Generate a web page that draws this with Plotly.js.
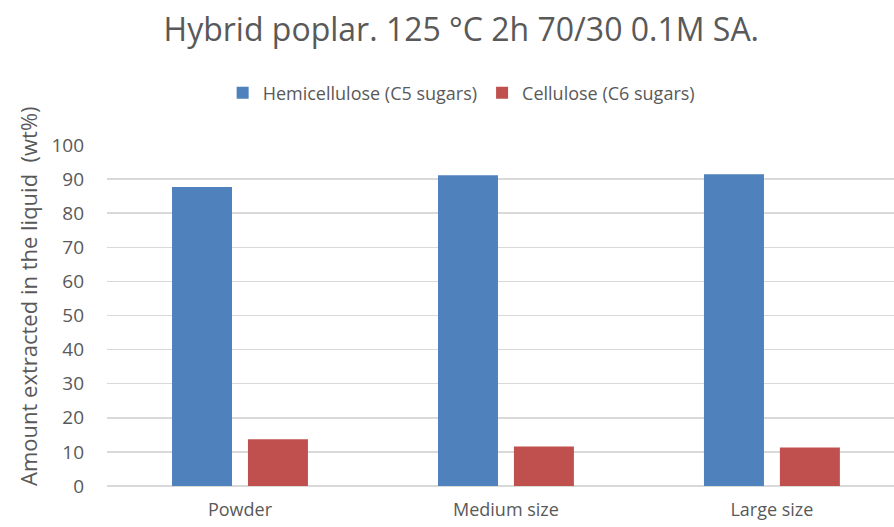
<!DOCTYPE html>
<html><head><meta charset="utf-8">
<script src="https://cdn.plot.ly/plotly-3.0.1.min.js"></script>
<style>html,body{margin:0;padding:0;background:#fff}#c{width:894px;height:527px}</style>
</head><body><div id="c"></div>
<script>
const categories = ["Powder", "Medium size", "Large size"];
const hemicellulose = [87.7, 91.1, 91.4];
const cellulose = [13.7, 11.6, 11.3];
const seriesNames = ["Hemicellulose (C5 sugars)", "Cellulose (C6 sugars)"];
const yTicks = [0,10,20,30,40,50,60,70,80,90,100];

const font = "Open Sans, Noto Sans, sans-serif";
const txt = "#595959";
const data = [
  {type:"bar", x:categories, y:hemicellulose, name:seriesNames[0], marker:{color:"#4f81bd"}},
  {type:"bar", x:categories, y:cellulose, name:seriesNames[1], marker:{color:"#c0504d"}}
];
const layout = {
  width:894, height:527,
  margin:{l:107, r:0, t:145, b:41},
  paper_bgcolor:"#fff", plot_bgcolor:"#fff",
  font:{family:font, color:txt},
  title:{text:"Hybrid poplar. 125 °C 2h 70/30 0.1M SA.", font:{size:32, color:txt, family:font},
    x:0.516, xref:"container", xanchor:"center", y:0.943, yref:"container", yanchor:"middle"},
  barmode:"group", bargap:0.429, bargroupgap:0.21,
  showlegend:true,
  legend:{orientation:"h", x:0.45, xanchor:"center", y:1.152, yanchor:"middle",
    font:{size:18, color:txt, family:font}, itemwidth:30, traceorder:"normal"},
  xaxis:{range:[-0.5, 2.459], showgrid:false, showline:false, zeroline:false, ticks:"",
    tickfont:{size:18, color:txt}, ticklabelstandoff:11, fixedrange:true},
  yaxis:{range:[0,100], tickvals:yTicks, showgrid:true, gridcolor:"#d9d9d9", gridwidth:1.5,
    zeroline:true, zerolinecolor:"#d9d9d9", zerolinewidth:1.5, showline:false, ticks:"",
    tickfont:{size:19, color:txt}, ticklabelstandoff:22},
  annotations:[{text:"Amount extracted in the liquid  (wt%)", textangle:-90, xref:"paper", yref:"paper",
    x:0, y:0, xanchor:"center", yanchor:"middle", showarrow:false,
    font:{size:22, color:txt, family:font}}]
};
layout.annotations[0].x = (28-107)/787;
layout.annotations[0].y = (486-296)/341;
Plotly.newPlot("c", data, layout, {displayModeBar:false, staticPlot:true});
</script></body></html>
